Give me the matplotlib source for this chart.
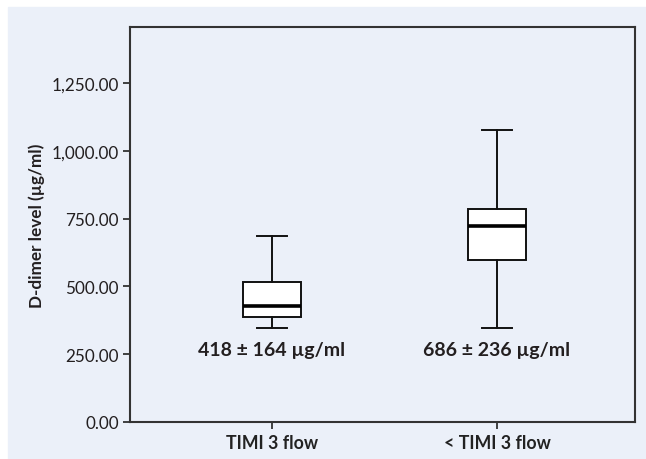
import matplotlib
matplotlib.use("Agg")
import matplotlib.pyplot as plt
from matplotlib.patches import Rectangle
from matplotlib.ticker import FuncFormatter

plt.rcParams["font.family"] = ["Lato", "DejaVu Sans"]

# data
groups = ["TIMI 3 flow", "< TIMI 3 flow"]
whisker_low = [348, 347]
q1 = [386, 597]
median = [429, 721]
q3 = [515, 785]
whisker_high = [687, 1075]
mean_sd = ["418 \u00b1 164 \u00b5g/ml", "686 \u00b1 236 \u00b5g/ml"]
yticks = [0, 250, 500, 750, 1000, 1250]

bg = "#ebf0f9"
ink = "#231f20"
W, H = 646, 460

fig = plt.figure(figsize=(W / 100, H / 100), dpi=100)
fig.patch.set_facecolor("white")
# light panel, white strip at top and left
fig.add_artist(Rectangle((8 / W, 0), 1 - 8 / W, 1 - 8 / H,
                         transform=fig.transFigure, color=bg, zorder=-5))

ax = fig.add_axes([130 / W, (H - 423) / H, (635 - 130) / W, (423 - 28) / H])
ax.set_facecolor(bg)
ax.set_zorder(2)

stats = []
for i in range(len(groups)):
    stats.append(dict(med=median[i], q1=q1[i], q3=q3[i],
                      whislo=whisker_low[i], whishi=whisker_high[i], fliers=[]))

pos = [1, 2]
ax.bxp(stats, positions=pos, widths=0.258, capwidths=0.135, patch_artist=True,
       showfliers=False,
       boxprops=dict(facecolor="white", edgecolor="#111111", linewidth=1.4),
       medianprops=dict(color="#000000", linewidth=2.6),
       whiskerprops=dict(color="#111111", linewidth=1.4),
       capprops=dict(color="#111111", linewidth=1.4))

for p, t in zip(pos, mean_sd):
    ax.text(p, 267, t, ha="center", va="center", fontsize=14,
            fontweight="bold", color=ink)

ax.set_xlim(0.369, 2.613)
ax.set_ylim(0, 1456)
ax.set_xticks(pos)
ax.set_xticklabels(groups, fontsize=12.8, fontweight="bold", color=ink)
ax.set_yticks(yticks)
ax.yaxis.set_major_formatter(FuncFormatter(lambda v, _: f"{v:,.2f}"))
ax.tick_params(axis="y", labelsize=12.3, length=5, width=1.2,
               colors="#222222", labelcolor=ink, pad=3)
ax.tick_params(axis="x", length=5, width=1.2, colors="#222222", pad=4)
for s in ax.spines.values():
    s.set_linewidth(1.5)
    s.set_color("#333333")

ax.set_ylabel("D-dimer level (\u00b5g/ml)", fontsize=12.3, fontweight="bold",
              color=ink, labelpad=5)

fig.savefig("out.png", dpi=100, facecolor=fig.get_facecolor())
